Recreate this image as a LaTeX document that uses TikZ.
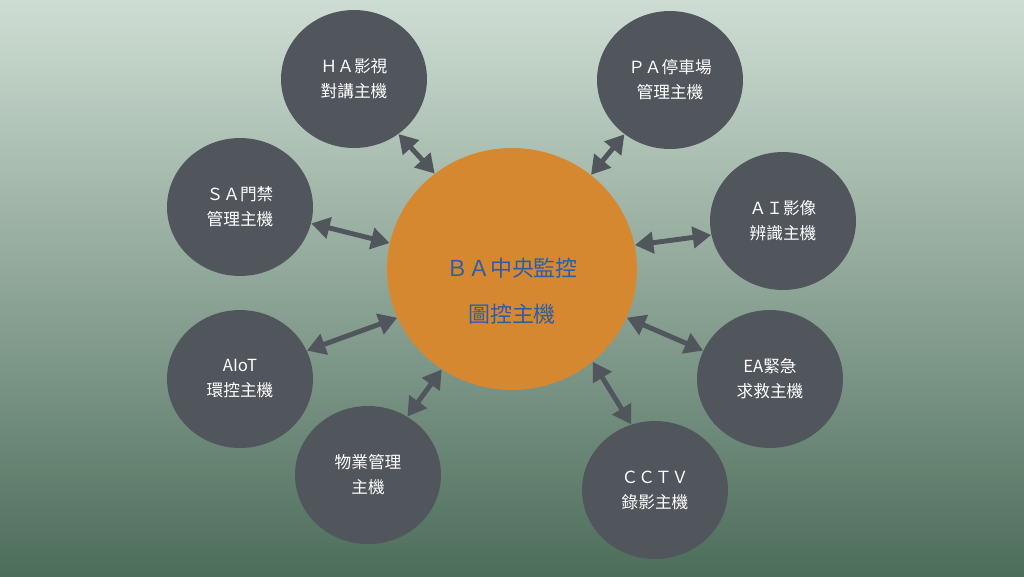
\documentclass[tikz,border=0pt]{standalone}
\usepackage{fontspec}
\setmainfont{Noto Sans CJK TC}
\usetikzlibrary{shapes.geometric,arrows.meta}
\definecolor{bgtop}{HTML}{CEDDD3}
\definecolor{bgmid}{HTML}{9AB09D}
\definecolor{bgbot}{HTML}{4D6D5B}
\definecolor{hostgray}{HTML}{51555C}
\definecolor{baorange}{HTML}{D68831}
\definecolor{bablue}{HTML}{2B5DA8}

\begin{document}
\begin{tikzpicture}[x=0.02cm,y=-0.02cm,
  host/.style={ellipse,fill=hostgray,minimum width=2.92cm,minimum height=2.76cm,inner sep=0pt,
    text=white,align=center,font=\fontsize{9.5}{14.2}\selectfont},
  link/.style={draw=hostgray,line width=2.8pt,
    {Triangle[length=10.5pt,width=12pt]}-{Triangle[length=10.5pt,width=12pt]}}]
\shade[top color=bgtop,middle color=bgmid,bottom color=bgbot] (0,0) rectangle (1024,576);
% central host
\node[ellipse,fill=baorange,minimum width=5cm,minimum height=4.84cm,inner sep=0pt] (ba) at (512,269) {};
\node[text=bablue,align=center,font=\fontsize{12.5}{26}\selectfont] (batext) at (512,291) {ＢＡ中央監控\\圖控主機};
% outer hosts
\node[host] (ha) at (354,79) {ＨＡ影視\\對講主機};
\node[host] (pa) at (670,80) {ＰＡ停車場\\管理主機};
\node[host] (sa) at (240,207) {ＳＡ門禁\\管理主機};
\node[host] (ai) at (783,221) {ＡＩ影像\\辨識主機};
\node[host] (aiot) at (240,379) {AIoT\\環控主機};
\node[host] (ea) at (770,379) {EA緊急\\求救主機};
\node[host] (wy) at (368,475) {物業管理\\主機};
\node[host] (cctv) at (655,490) {ＣＣＴＶ\\錄影主機};
% links: host border angle / centre border angle
\foreach \h/\a/\b in {ha/-51/129,pa/-130/50,sa/-13/168,ai/191/11,
                      aiot/23/203,ea/157/-23,wy/56/235,cctv/110/-49}
	\draw[link] (\h.\a) -- (ba.\b);
\end{tikzpicture}
\end{document}
